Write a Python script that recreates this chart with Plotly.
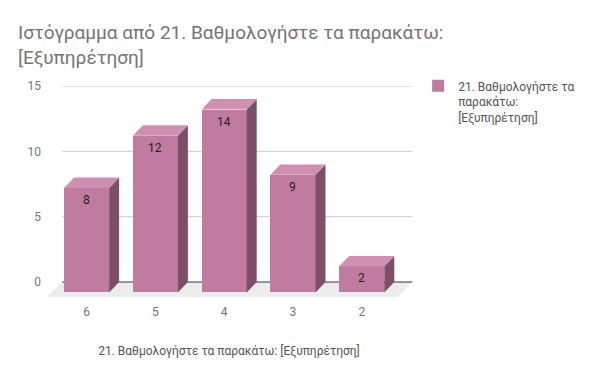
import plotly.graph_objects as go

categories = ["6", "5", "4", "3", "2"]
values = [8, 12, 14, 9, 2]
y_ticks = [0, 5, 10, 15]
series_name = "21. Βαθμολογήστε τα<br>παρακάτω:<br>[Εξυπηρέτηση]"
title_text = "Ιστόγραμμα από 21. Βαθμολογήστε τα παρακάτω:<br>[Εξυπηρέτηση]"
x_title = "21. Βαθμολογήστε τα παρακάτω: [Εξυπηρέτηση]"

FRONT = "#c27ba0"
SIDE = "#7e4e68"
TOP = "#cd90b1"
FLOOR = "#ececec"

# 3D geometry (in axis units)
DX = 0.145     # depth offset, x
DY = 0.8       # depth offset, y
BW = 0.655     # bar width
FDX = 0.22
FDY = 1.15

n = len(categories)
xs = list(range(n))
fx = [i - DX for i in xs]          # front face centres

fig = go.Figure()

# front faces
fig.add_trace(go.Bar(
    x=fx, y=values, base=[-DY] * n, width=BW,
    marker=dict(color=FRONT, line=dict(width=0)),
    name=series_name, showlegend=True, hoverinfo="skip",
))

# side and top faces
for xc, v in zip(fx, values):
    l, r = xc - BW / 2, xc + BW / 2
    b, t = -DY, v - DY
    fig.add_trace(go.Scatter(
        x=[r, r + DX, r + DX, r, r], y=[b, b + DY, t + DY, t, b],
        fill="toself", fillcolor=SIDE, mode="none", showlegend=False, hoverinfo="skip"))
    fig.add_trace(go.Scatter(
        x=[l, r, r + DX, l + DX, l], y=[t, t, t + DY, t + DY, t],
        fill="toself", fillcolor=TOP, mode="none", showlegend=False, hoverinfo="skip"))

x0, x1 = -0.5, n - 0.41
shapes = []
# floor
shapes.append(dict(type="path", xref="x", yref="y", layer="below",
                   path=f"M {x0},0 L {x1},0 L {x1 - FDX},{-FDY} L {x0 - FDX},{-FDY} Z",
                   fillcolor=FLOOR, line=dict(width=0)))
# gridlines
for t in y_ticks[1:]:
    shapes.append(dict(type="line", xref="x", yref="y", layer="below",
                       x0=x0, x1=x1, y0=t, y1=t, line=dict(color="#cccccc", width=1)))
# baseline
shapes.append(dict(type="line", xref="x", yref="y", layer="below",
                   x0=x0, x1=x1, y0=0, y1=0, line=dict(color="#333333", width=1)))

annotations = []
for xc, v in zip(fx, values):
    annotations.append(dict(x=xc, y=v - DY, xref="x", yref="y", text=str(v),
                            showarrow=False, yanchor="top", yshift=-3,
                            font=dict(family="Roboto", size=12, color="#222222")))

fig.update_layout(
    width=600, height=371,
    margin=dict(l=37, r=195, t=78, b=80, autoexpand=False),
    paper_bgcolor="white", plot_bgcolor="rgba(0,0,0,0)",
    font=dict(family="Roboto", size=12, color="#757575"),
    title=dict(text=title_text, x=0, xref="container", xanchor="left",
               y=1, yref="container", yanchor="top", pad=dict(l=10, t=31),
               font=dict(family="Roboto", size=19, color="#757575")),
    showlegend=True,
    legend=dict(x=1.014, xanchor="left", y=1.068, yanchor="top", valign="top",
                font=dict(family="Roboto", size=12, color="#555555"),
                bgcolor="rgba(0,0,0,0)"),
    shapes=shapes,
    annotations=annotations,
    bargap=0,
)
fig.update_xaxes(range=[-0.75, n - 0.4], tickvals=fx, ticktext=categories,
                 showgrid=False, zeroline=False, showline=False, ticks="",
                 ticklabelstandoff=4, automargin=False,
                 tickfont=dict(family="Roboto", size=12, color="#757575"),
                 title=dict(text=x_title, standoff=28,
                            font=dict(family="Roboto", size=12, color="#555555")))
fig.update_yaxes(range=[-1.3, 15], tickvals=y_ticks, showgrid=False, zeroline=False,
                 showline=False, ticks="", ticklabelstandoff=3, automargin=False,
                 tickfont=dict(family="Roboto", size=12, color="#757575"))

fig.write_html("out.html")
